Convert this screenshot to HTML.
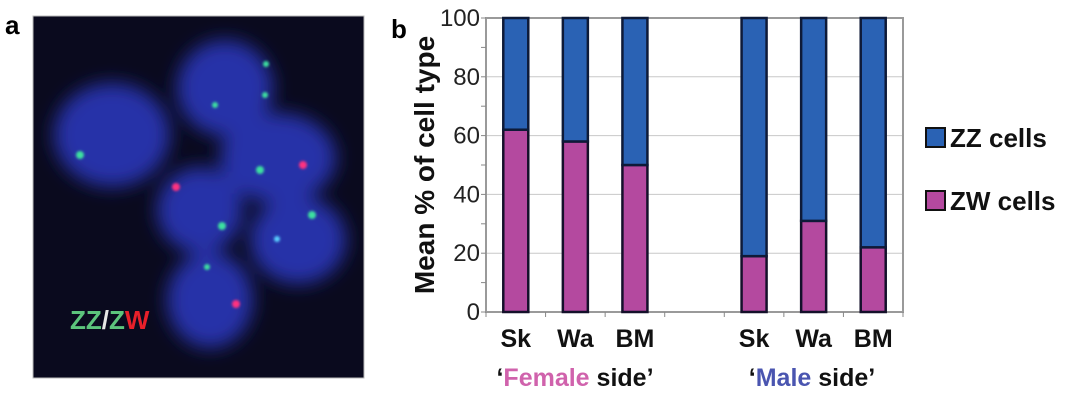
<!DOCTYPE html>
<html><head><meta charset="utf-8"><style>
html,body{margin:0;padding:0;background:#fff;width:1080px;height:405px;overflow:hidden}
svg{display:block;font-family:"Liberation Sans",sans-serif}
</style></head><body>
<svg width="1080" height="405" viewBox="0 0 1080 405">
<defs>
<filter id="blur"><feGaussianBlur stdDeviation="9"/></filter>
<filter id="b2"><feGaussianBlur stdDeviation="1.4"/></filter>
</defs>
<text x="5" y="34" font-size="26" font-weight="bold">a</text>
<g>
<rect x="33" y="16" width="331" height="362" fill="#0a0a1e" stroke="#bbb" stroke-width="1"/>
<g filter="url(#blur)" fill="#2632a8">
<ellipse cx="112" cy="135" rx="58" ry="52"/>
<ellipse cx="225" cy="88" rx="48" ry="48"/>
<ellipse cx="278" cy="158" rx="58" ry="45"/>
<ellipse cx="200" cy="210" rx="43" ry="43"/>
<ellipse cx="298" cy="240" rx="48" ry="44"/>
<ellipse cx="210" cy="300" rx="43" ry="48"/>
</g>
<g filter="url(#b2)">
<circle cx="80" cy="155" r="4" fill="#3ce0a0"/>
<circle cx="266" cy="64" r="3" fill="#3ce0a0"/>
<circle cx="265" cy="95" r="3" fill="#3ce0a0"/>
<circle cx="215" cy="105" r="3" fill="#3ce0a0"/>
<circle cx="260" cy="170" r="4" fill="#3ce0a0"/>
<circle cx="303" cy="165" r="4" fill="#ff3080"/>
<circle cx="176" cy="187" r="4" fill="#ff3080"/>
<circle cx="222" cy="226" r="4" fill="#3ce0a0"/>
<circle cx="312" cy="215" r="4" fill="#3ce0a0"/>
<circle cx="277" cy="239" r="3" fill="#5ad0ff"/>
<circle cx="207" cy="267" r="3" fill="#3ce0a0"/>
<circle cx="236" cy="304" r="4" fill="#ff3080"/>
</g>
<text x="70" y="329" font-size="26" font-weight="bold"><tspan fill="#5cc47c">ZZ</tspan><tspan fill="#e8e8e8">/</tspan><tspan fill="#5cc47c">Z</tspan><tspan fill="#e8202a">W</tspan></text>
</g>
<text x="391" y="38" font-size="26" font-weight="bold">b</text>
<g id="chart"></g>
</svg>
<script>
const categories = ["Sk","Wa","BM","","Sk","Wa","BM"];
const zwValues = [62, 58, 50, null, 19, 31, 22];
const zzValues = [38, 42, 50, null, 81, 69, 78];
const yTicks = [0,20,40,60,80,100];
const NS = "http://www.w3.org/2000/svg";
const g = document.getElementById("chart");
const L=486, R=903, T=18, B=312;
const y = v => B - (v/100)*(B-T);
const slot = (R-L)/categories.length;
const xc = i => L + slot*(i+0.5);
function mk(tag, attrs, parent){const e=document.createElementNS(NS,tag);for(const k in attrs)e.setAttribute(k,attrs[k]);(parent||g).appendChild(e);return e;}
for (const t of [20,40,60,80]) {
  const l = mk("line",{x1:L,x2:R,y1:y(t),y2:y(t),stroke:"#c8c8c8","stroke-width":1});
  
  
}
const fr = mk("rect",{x:L,y:T,width:R-L,height:B-T,fill:"none",stroke:"#9a9a9a","stroke-width":2});


for (let v=0; v<=100; v+=10) {
  const tk = mk("line",{x1:L-5,x2:L,y1:y(v),y2:y(v),stroke:"#888","stroke-width":1});
  
  
}
for (let i=0;i<=categories.length;i++){
  const tk = mk("line",{x1:L+slot*i,x2:L+slot*i,y1:B,y2:B+5,stroke:"#888","stroke-width":1});
  
  
}
for (const t of yTicks) {
  const tx = mk("text",{x:480,y:y(t)+8,"text-anchor":"end","font-size":24,fill:"#222"});
  tx.textContent = t;
  
  
}
const bw = 25;
categories.forEach((c,i)=>{
  if (zwValues[i]==null) return;
  const x0 = xc(i)-bw/2;
  const zw = zwValues[i], zz = zzValues[i];
  const b1 = mk("rect",{x:x0,y:y(zw),width:bw,height:B-y(zw),fill:"#b4499f",stroke:"#14102a","stroke-width":2.5});
  
  
  const b2 = mk("rect",{x:x0,y:y(zw+zz),width:bw,height:y(zw)-y(zw+zz),fill:"#2a62b4",stroke:"#0e1a38","stroke-width":2.5});
  
  
  const lb = mk("text",{x:xc(i),y:347,"text-anchor":"middle","font-size":25,"font-weight":"bold",fill:"#111"});
  lb.textContent = c;
  
  
});
</script>
<svg width="1080" height="405" style="position:absolute;left:0;top:0" font-family="Liberation Sans, sans-serif">
<text transform="translate(434,165) rotate(-90)" text-anchor="middle" font-size="28" font-weight="bold" fill="#111">Mean % of cell type</text>
<text x="575" y="386" text-anchor="middle" font-size="25" font-weight="bold" fill="#111">‘<tspan fill="#d062ac">Female</tspan> side’</text>
<text x="812" y="386" text-anchor="middle" font-size="25" font-weight="bold" fill="#111">‘<tspan fill="#4a55b0">Male</tspan> side’</text>
<g>
<rect x="926" y="128" width="19" height="19" fill="#2a62b4" stroke="#111" stroke-width="2"/>
<text x="950" y="147" font-size="26" font-weight="bold" fill="#111">ZZ cells</text>
<rect x="926" y="191" width="19" height="19" fill="#b4499f" stroke="#111" stroke-width="2"/>
<text x="950" y="210" font-size="26" font-weight="bold" fill="#111">ZW cells</text>
</g>
</svg>
</body></html>
